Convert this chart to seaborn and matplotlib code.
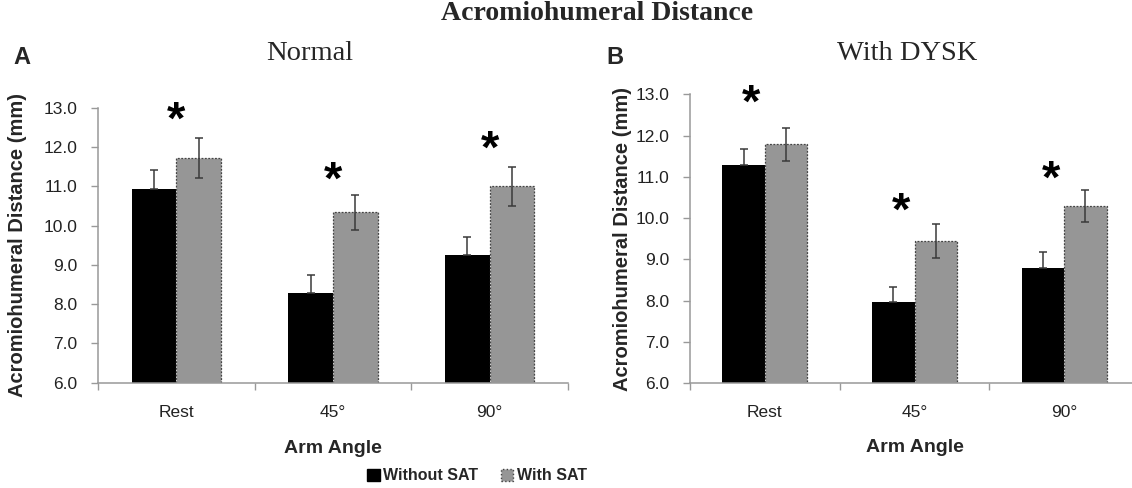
import numpy as np
import pandas as pd
import seaborn as sns
from matplotlib import pyplot as plt
from matplotlib.patches import Patch

# data
angles = ['Rest', '45°', '90°']
groups = ['Without SAT', 'With SAT']

normal_without = [10.92, 8.28, 9.24]
normal_without_err = [0.49, 0.47, 0.47]
normal_with = [11.72, 10.34, 11.00]
normal_with_err = [0.50, 0.45, 0.50]
normal_star = [12.88, 11.34, 12.13]

dysk_without = [11.28, 7.96, 8.79]
dysk_without_err = [0.39, 0.38, 0.40]
dysk_with = [11.79, 9.44, 10.29]
dysk_with_err = [0.40, 0.41, 0.39]
dysk_star = [12.96, 10.34, 11.12]

sns.set_theme(style='white')
plt.rcParams['font.family'] = ['Liberation Sans', 'DejaVu Sans']

bar_colors = ['#000000', '#969696']
W, H = 1132, 488
fig = plt.figure(figsize=(W / 100, H / 100), dpi=100)


def panel(rect, without, without_err, with_, with_err, stars, star_dx,
          ylab_x, xlab_y):
    ax = fig.add_axes(rect)
    df = pd.DataFrame({
        'Arm Angle': angles * 2,
        'SAT': [groups[0]] * 3 + [groups[1]] * 3,
        'value': without + with_,
    })
    sns.barplot(data=df, x='Arm Angle', y='value', hue='SAT', order=angles,
                hue_order=groups, palette=bar_colors, width=0.57,
                errorbar=None, legend=False, ax=ax, linewidth=0)
    errs = without_err + with_err
    vals = without + with_
    for i, p in enumerate(ax.patches[:6]):
        cx = p.get_x() + p.get_width() / 2
        if i >= 3:
            p.set_edgecolor('#444444')
            p.set_linewidth(0.9)
            p.set_linestyle((0, (1.5, 1.2)))
            yerr = errs[i]
        else:
            # lower half is hidden inside the black bar
            yerr = [[0], [errs[i]]]
        ax.errorbar(cx, vals[i], yerr=yerr, fmt='none', ecolor='#3a3a3a',
                    elinewidth=1.1, capsize=3, capthick=1.1, zorder=5)
    # the '*' glyph sits high in its box, so nudge it down a little
    for i, s in enumerate(stars):
        ax.annotate('*', xy=(i + star_dx, s), xytext=(0, -6.5),
                    textcoords='offset points', ha='center', va='center',
                    fontsize=34, fontweight='bold', color='black')
    ax.set_ylim(6, 13)
    ax.set_xlim(-0.5, 2.5)
    ax.set_yticks(np.arange(6, 13.5, 1.0))
    ax.set_yticklabels([f'{v:.1f}' for v in np.arange(6, 13.5, 1.0)])
    ax.set_xticks(range(3))
    ax.set_xticklabels(angles)
    ax.set_xticks([-0.5, 0.5, 1.5, 2.5], minor=True)
    ax.tick_params(axis='x', which='major', length=0, pad=16, labelsize=12.5,
                   labelcolor='#222222')
    ax.tick_params(axis='x', which='minor', length=5, width=1, color='#999999',
                   bottom=True, direction='out')
    ax.tick_params(axis='y', length=5, width=1, color='#999999', left=True,
                   direction='out', labelsize=12.5, labelcolor='#222222', pad=10)
    for side in ['top', 'right']:
        ax.spines[side].set_visible(False)
    for side in ['left', 'bottom']:
        ax.spines[side].set_color('#999999')
        ax.spines[side].set_linewidth(1.1)
    ax.set_xlabel('Arm Angle', fontsize=14, fontweight='bold')
    ax.set_ylabel('Acromiohumeral Distance (mm)', fontsize=14.5, fontweight='bold')
    ax.yaxis.set_label_coords(ylab_x, 0.5)
    ax.xaxis.set_label_coords(0.5, xlab_y)
    return ax


panel([98 / W, 1 - 382.7 / H, 470 / W, 275 / H], normal_without, normal_without_err,
      normal_with, normal_with_err, normal_star, 0.0, -0.151, -0.21)
panel([690 / W, 1 - 383 / H, 449 / W, 288.5 / H], dysk_without, dysk_without_err,
      dysk_with, dysk_with_err, dysk_star, -0.09, -0.129, -0.195)

serif = ['Liberation Serif', 'DejaVu Serif']
fig.text(597 / W, 1 - 13.5 / H, 'Acromiohumeral Distance', family=serif,
         fontsize=20, fontweight='bold', ha='center', va='center')
fig.text(310 / W, 1 - 53 / H, 'Normal', family=serif, fontsize=20.5,
         ha='center', va='center')
fig.text(907 / W, 1 - 53 / H, 'With DYSK', family=serif, fontsize=20.5,
         ha='center', va='center')
fig.text(13 / W, 1 - 57 / H, 'A', fontsize=17, fontweight='bold',
         ha='left', va='center')
fig.text(606 / W, 1 - 57 / H, 'B', fontsize=17, fontweight='bold',
         ha='left', va='center')

handles = [Patch(facecolor=bar_colors[0], edgecolor=bar_colors[0]),
           Patch(facecolor=bar_colors[1], edgecolor='#444444', linestyle=':')]
fig.legend(handles, groups, loc='center', bbox_to_anchor=(477 / W, 1 - 476 / H),
           ncol=2, frameon=False, prop={'weight': 'bold', 'size': 11.5},
           handlelength=0.8, handleheight=0.8, handletextpad=0.2, columnspacing=1.4)

fig.savefig('out.png', dpi=100)
